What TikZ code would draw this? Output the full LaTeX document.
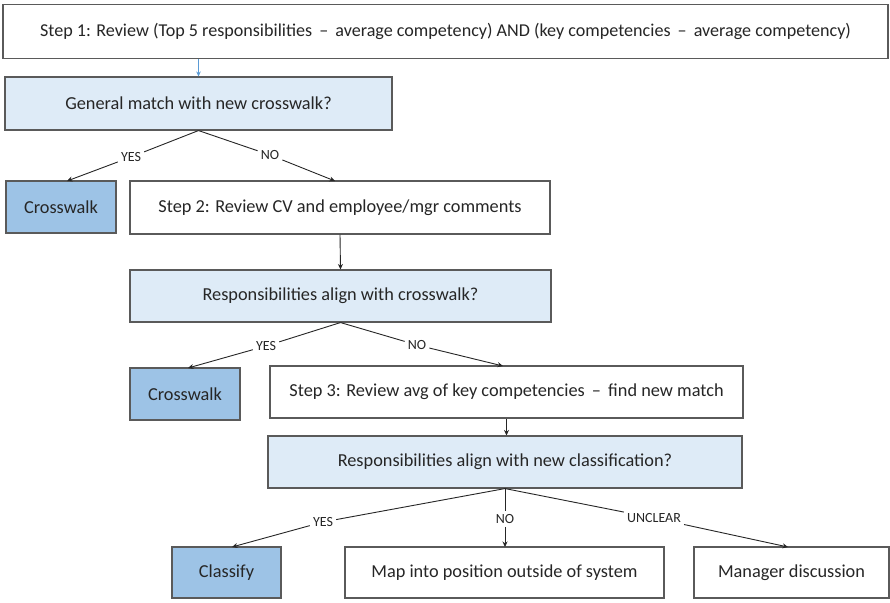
\documentclass[tikz,border=0pt]{standalone}
\usepackage{fontspec}
\setmainfont{Carlito}
\usetikzlibrary{arrows.meta}
\definecolor{lightblue}{HTML}{DEEBF7}
\definecolor{midblue}{HTML}{9DC3E6}
\definecolor{edge}{HTML}{5A5A5A}
\definecolor{txt}{HTML}{262626}
\definecolor{arrowblue}{HTML}{5B9BD5}
\begin{document}
\begin{tikzpicture}[x=1pt,y=-1pt,
  box/.style={draw=edge,line width=1.1pt,rectangle,inner sep=0pt,
    font=\fontsize{18.3}{21}\selectfont,text=txt},
  plain/.style={box,fill=white},
  question/.style={box,fill=lightblue},
  result/.style={box,fill=midblue},
  lbl/.style={font=\fontsize{14}{16}\selectfont,text=txt,inner sep=3pt},
  conn/.style={draw=txt,line width=0.9pt},
  tip/.style={-{Stealth[length=5.5pt,width=5pt]}}
]
\useasboundingbox (0,0) rectangle (890,602);
\fill[white] (0,0) rectangle (890,602);

\node[plain, minimum width=885pt, minimum height=54pt, font=\fontsize{18.1}{21}\selectfont] (s1) at (445.5,31.5)
  {Step 1: Review (Top 5 responsibilities \,–\, average competency) AND (key competencies \,–\, average competency)};
\node[question, minimum width=387pt, minimum height=53pt] (q1) at (198.5,103.5)
  {General match with new crosswalk?};
\node[result, minimum width=110pt, minimum height=52pt] (c1) at (61,207)
  {Crosswalk};
\node[plain, minimum width=420pt, minimum height=53pt] (s2) at (340,207.5)
  {Step 2: Review CV and employee/mgr comments};
\node[question, minimum width=421pt, minimum height=52pt] (q2) at (340.5,296)
  {Responsibilities align with crosswalk?};
\node[result, minimum width=110pt, minimum height=52pt] (c2) at (185,394)
  {Crosswalk};
\node[plain, minimum width=473pt, minimum height=52pt] (s3) at (506.5,392)
  {Step 3: Review avg of key competencies \,–\, find new match};
\node[question, minimum width=474pt, minimum height=52pt] (q3) at (505,462)
  {Responsibilities align with new classification?};
\node[result, minimum width=109pt, minimum height=51pt] (cl) at (226.5,572.5)
  {Classify};
\node[plain, minimum width=319pt, minimum height=51pt] (mp) at (504.5,572.5)
  {Map into position outside of system};
\node[plain, minimum width=195pt, minimum height=51pt] (mg) at (791.5,572.5)
  {Manager discussion};

% step 1 -> question 1
\draw[draw=arrowblue,line width=0.8pt,-{Stealth[length=5pt,width=4.5pt]}] (s1.south -| q1.north) -- (q1.north);

% decision 1
\coordinate (a1) at (q1.south);
\node[lbl] (y1) at (131,157) {YES};
\node[lbl] (n1) at (270,155) {NO};
\coordinate (e1) at (67,181);
\coordinate (f1) at (335,181);
\draw[conn] (a1) -- (y1);
\draw[conn,tip] (y1) -- (e1);
\draw[conn] (a1) -- (n1);
\draw[conn,tip] (n1) -- (f1);

% step 2 -> question 2
\draw[conn,tip] (s2.south) -- (q2.north);

% decision 2
\coordinate (a2) at (q2.south);
\node[lbl] (y2) at (266,346) {YES};
\node[lbl] (n2) at (417,345) {NO};
\coordinate (e2) at (188,368);
\coordinate (f2) at (503,366);
\draw[conn] (a2) -- (y2);
\draw[conn,tip] (y2) -- (e2);
\draw[conn] (a2) -- (n2);
\draw[conn,tip] (n2) -- (f2);

% step 3 -> question 3
\draw[conn,tip] (s3.south) -- (s3.south |- q3.north);

% decision 3
\coordinate (a3) at (q3.south);
\node[lbl] (y3) at (323,522) {YES};
\node[lbl] (n3) at (505,519) {NO};
\node[lbl] (u3) at (654,518) {UNCLEAR};
\coordinate (e3) at (232,547);
\coordinate (f3) at (505,547);
\coordinate (g3) at (788,547);
\draw[conn] (a3) -- (y3);
\draw[conn,tip] (y3) -- (e3);
\draw[conn] (a3) -- (n3);
\draw[conn,tip] (n3) -- (f3);
\draw[conn] (a3) -- (u3);
\draw[conn,tip] (u3) -- (g3);
\end{tikzpicture}
\end{document}
